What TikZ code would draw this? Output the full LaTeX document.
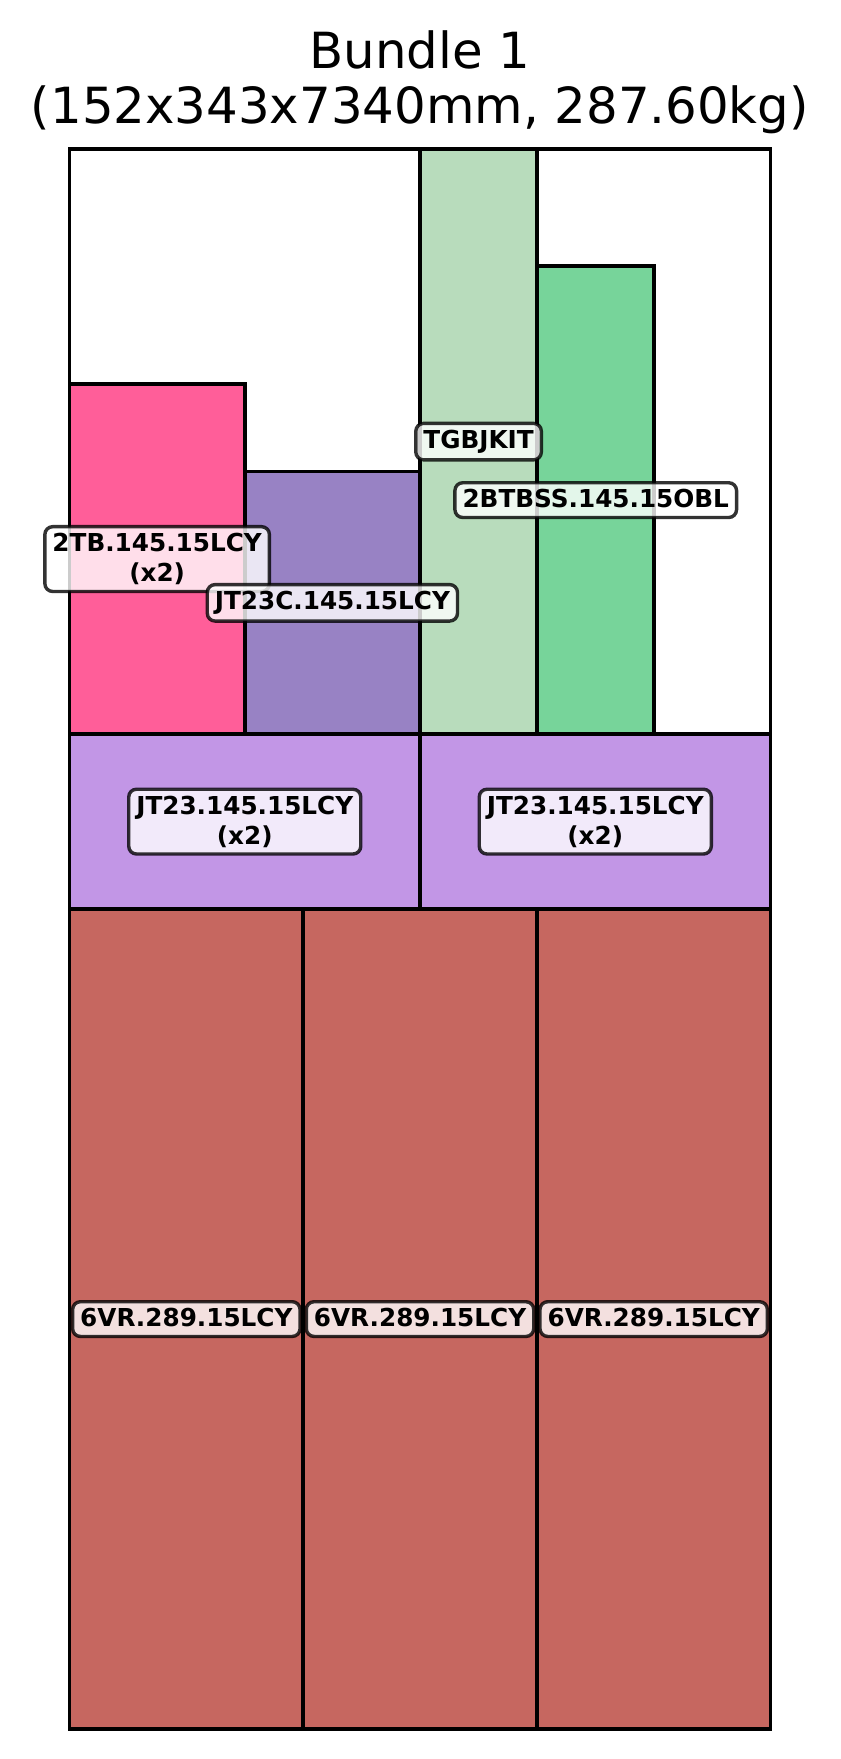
\documentclass[tikz,border=0pt]{standalone}
\usepackage{fontspec}
\setmainfont{DejaVu Sans}
\newcommand{\dstrut}{\rule[-0.13em]{0pt}{0.13em}}
\definecolor{cpink}{HTML}{FF5E99}
\definecolor{cjtc}{HTML}{9882C4}
\definecolor{ctgb}{HTML}{B8DCBC}
\definecolor{cbtb}{HTML}{77D49A}
\definecolor{cjt}{HTML}{C296E6}
\definecolor{cred}{HTML}{C66760}
\tikzset{
  piece/.style={draw=black, line width=1.9pt},
  lbl/.style={draw=black, draw opacity=0.8, fill=white, fill opacity=0.8, text opacity=1,
    rounded corners=3.9pt, line width=1.7pt, inner xsep=3.8pt, inner ysep=3.3pt,
    align=center, font=\fontsize{12.35pt}{15pt}\selectfont\bfseries},
  ttl/.style={font=\fontsize{24.9pt}{29pt}\selectfont, anchor=base, inner sep=0pt}
}
\begin{document}
\begin{tikzpicture}[x=0.5pt,y=-0.5pt]
\useasboundingbox (0,0) rectangle (840,1759);
\node[ttl] (title1) at (420,69) {Bundle 1};
\node[ttl] (title2) at (420,124) {(152x343x7340mm, 287.60kg)};
\begin{scope}[shift={(69.5,1729)}, x=2.306pt, y=2.303pt]
  \draw[piece] (0,0) rectangle (152,343);
  % bottom layer
  \draw[piece, fill=cred] (0,0) rectangle (50.667,178);
  \draw[piece, fill=cred] (50.667,0) rectangle (101.333,178);
  \draw[piece, fill=cred] (101.333,0) rectangle (152,178);
  % middle layer
  \draw[piece, fill=cjt] (0,178) rectangle (76,216);
  \draw[piece, fill=cjt] (76,178) rectangle (152,216);
  % top layer
  \draw[piece, fill=cpink] (0,216) rectangle (38,292);
  \draw[piece, fill=cjtc] (38,216) rectangle (76,273);
  \draw[piece, fill=ctgb] (76,216) rectangle (101.4,343);
  \draw[piece, fill=cbtb] (101.4,216) rectangle (126.8,317.6);
  % labels
  \node[lbl] (l2tb) at (19,254) {2TB.145.15LCY\\(x2)\dstrut};
  \node[lbl] (ljtc) at (57,244.5) {JT23C.145.15LCY\dstrut};
  \node[lbl] (ltgb) at (88.7,279.5) {TGBJKIT\dstrut};
  \node[lbl] (lbtb) at (114.1,266.8) {2BTBSS.145.15OBL\dstrut};
  \node[lbl] (ljt1) at (38,197) {JT23.145.15LCY\\(x2)\dstrut};
  \node[lbl] (ljt2) at (114,197) {JT23.145.15LCY\\(x2)\dstrut};
  \node[lbl] (lvr1) at (25.333,89) {6VR.289.15LCY\dstrut};
  \node[lbl] (lvr2) at (76,89) {6VR.289.15LCY\dstrut};
  \node[lbl] (lvr3) at (126.667,89) {6VR.289.15LCY\dstrut};
\end{scope}
\end{tikzpicture}
\end{document}
